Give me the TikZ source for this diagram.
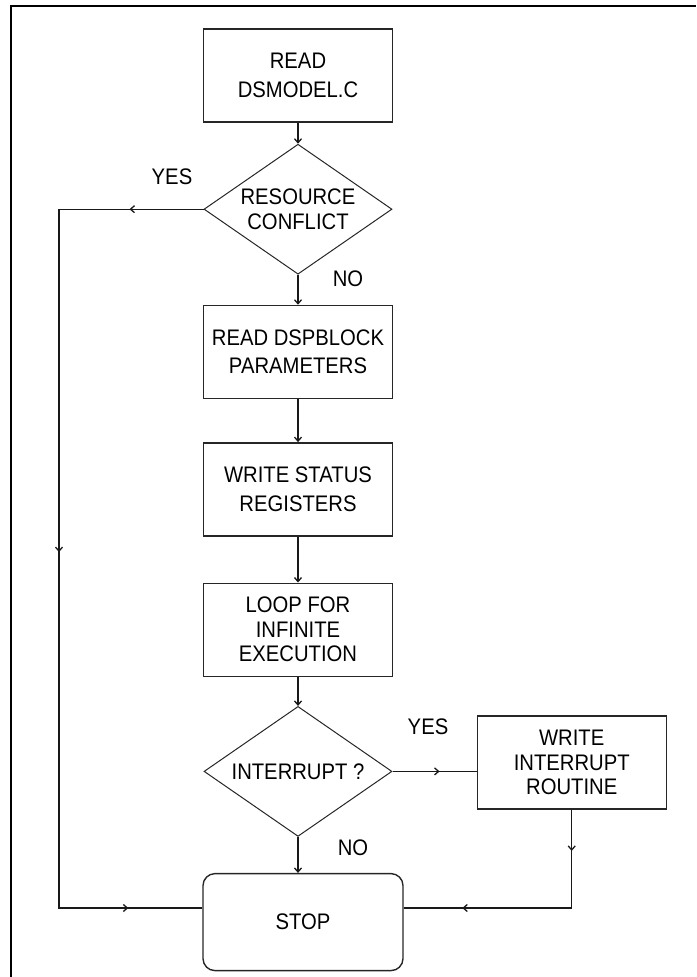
\documentclass[tikz,border=0pt]{standalone}
\usepackage{fontspec}
\setmainfont{Liberation Sans}[FakeStretch=0.9]
\usetikzlibrary{shapes.geometric,positioning,arrows.meta,decorations.markings}
\tikzset{
  flownode/.style = {align=center, inner sep=2pt, text centered, font=\fontsize{22.5}{28.5}\selectfont},
  fbox/.style = {flownode, rectangle, draw=black!85, line width=1.4pt, minimum width=189pt, minimum height=93pt},
  fbox3/.style = {fbox, font=\fontsize{22.5}{24.5}\selectfont},
  fdecide/.style = {flownode, diamond, draw=black!85, line width=1pt, inner sep=0pt, aspect=1.45, minimum width=188pt, minimum height=130pt, font=\fontsize{22.5}{25}\selectfont},
  fstop/.style = {flownode, rectangle, rounded corners=12pt, draw=black!85, line width=1.4pt, minimum width=200pt, minimum height=97pt},
  flabel/.style = {flownode, inner sep=0pt},
  fline/.style = {draw=black!90, line width=1.3pt, >={Straight Barb[length=4pt,width=7pt]}},
  midarrow/.style = {postaction={decorate}, decoration={markings, mark=at position #1 with {\arrow{>}}}},
}

\begin{document}
\begin{tikzpicture}[x=1pt, y=-1pt]
\useasboundingbox (0,0) rectangle (696,977);
% frame
\draw [line width=2.5pt] (11,977) -- (11,6) -- (696,6);

\node [fbox] (readc) at (298,75.5) {READ\\DSMODEL.C};
\node [fdecide, below=21pt of readc] (conflict) {RESOURCE\\CONFLICT};
\node [fbox, below=30pt of conflict] (params) {READ DSPBLOCK\\PARAMETERS};
\node [fbox, below=43pt of params] (status) {WRITE STATUS\\REGISTERS};
\node [fbox3, below=46pt of status] (loop) {LOOP FOR\\INFINITE\\EXECUTION};
\node [fdecide, below=29pt of loop] (intr) {INTERRUPT ?};
\node [fbox3, right=84pt of intr, yshift=9pt] (routine) {WRITE\\INTERRUPT\\ROUTINE};
\node [fstop, below=36pt of intr, xshift=5pt] (stop) {STOP};

\node [flabel] (yes1) at (172,177) {YES};
\node [flabel] (no1) at (348,279) {NO};
\node [flabel] (yes2) at (428,727) {YES};
\node [flabel] (no2) at (353,848) {NO};

\draw [fline, ->] (readc) -- (conflict);
\draw [fline, ->] (conflict) -- (params);
\draw [fline, ->] (params) -- (status);
\draw [fline, ->] (status) -- (loop);
\draw [fline, ->] (loop) -- (intr);
\draw [fline, ->] (intr) -- (intr.south |- stop.north);

% yes branches
\coordinate (lbot) at (59,908);
\draw [fline, postaction={decorate}, decoration={markings,
    mark=at position 0.075 with {\arrow{>}},
    mark=at position 0.494 with {\arrow{>}},
    mark=at position 0.925 with {\arrow{>}}}]
  (conflict.west) -- (conflict.west -| lbot) -- (lbot) -- (lbot -| stop.west);
\draw [fline, midarrow=0.56] (intr.east) -- (intr.east -| routine.west);
\draw [fline, postaction={decorate}, decoration={markings,
    mark=at position 0.155 with {\arrow{>}},
    mark=at position 0.78 with {\arrow{>}}}]
  (routine.south) -- (routine.south |- lbot) -- (lbot -| stop.east);
\end{tikzpicture}
\end{document}
